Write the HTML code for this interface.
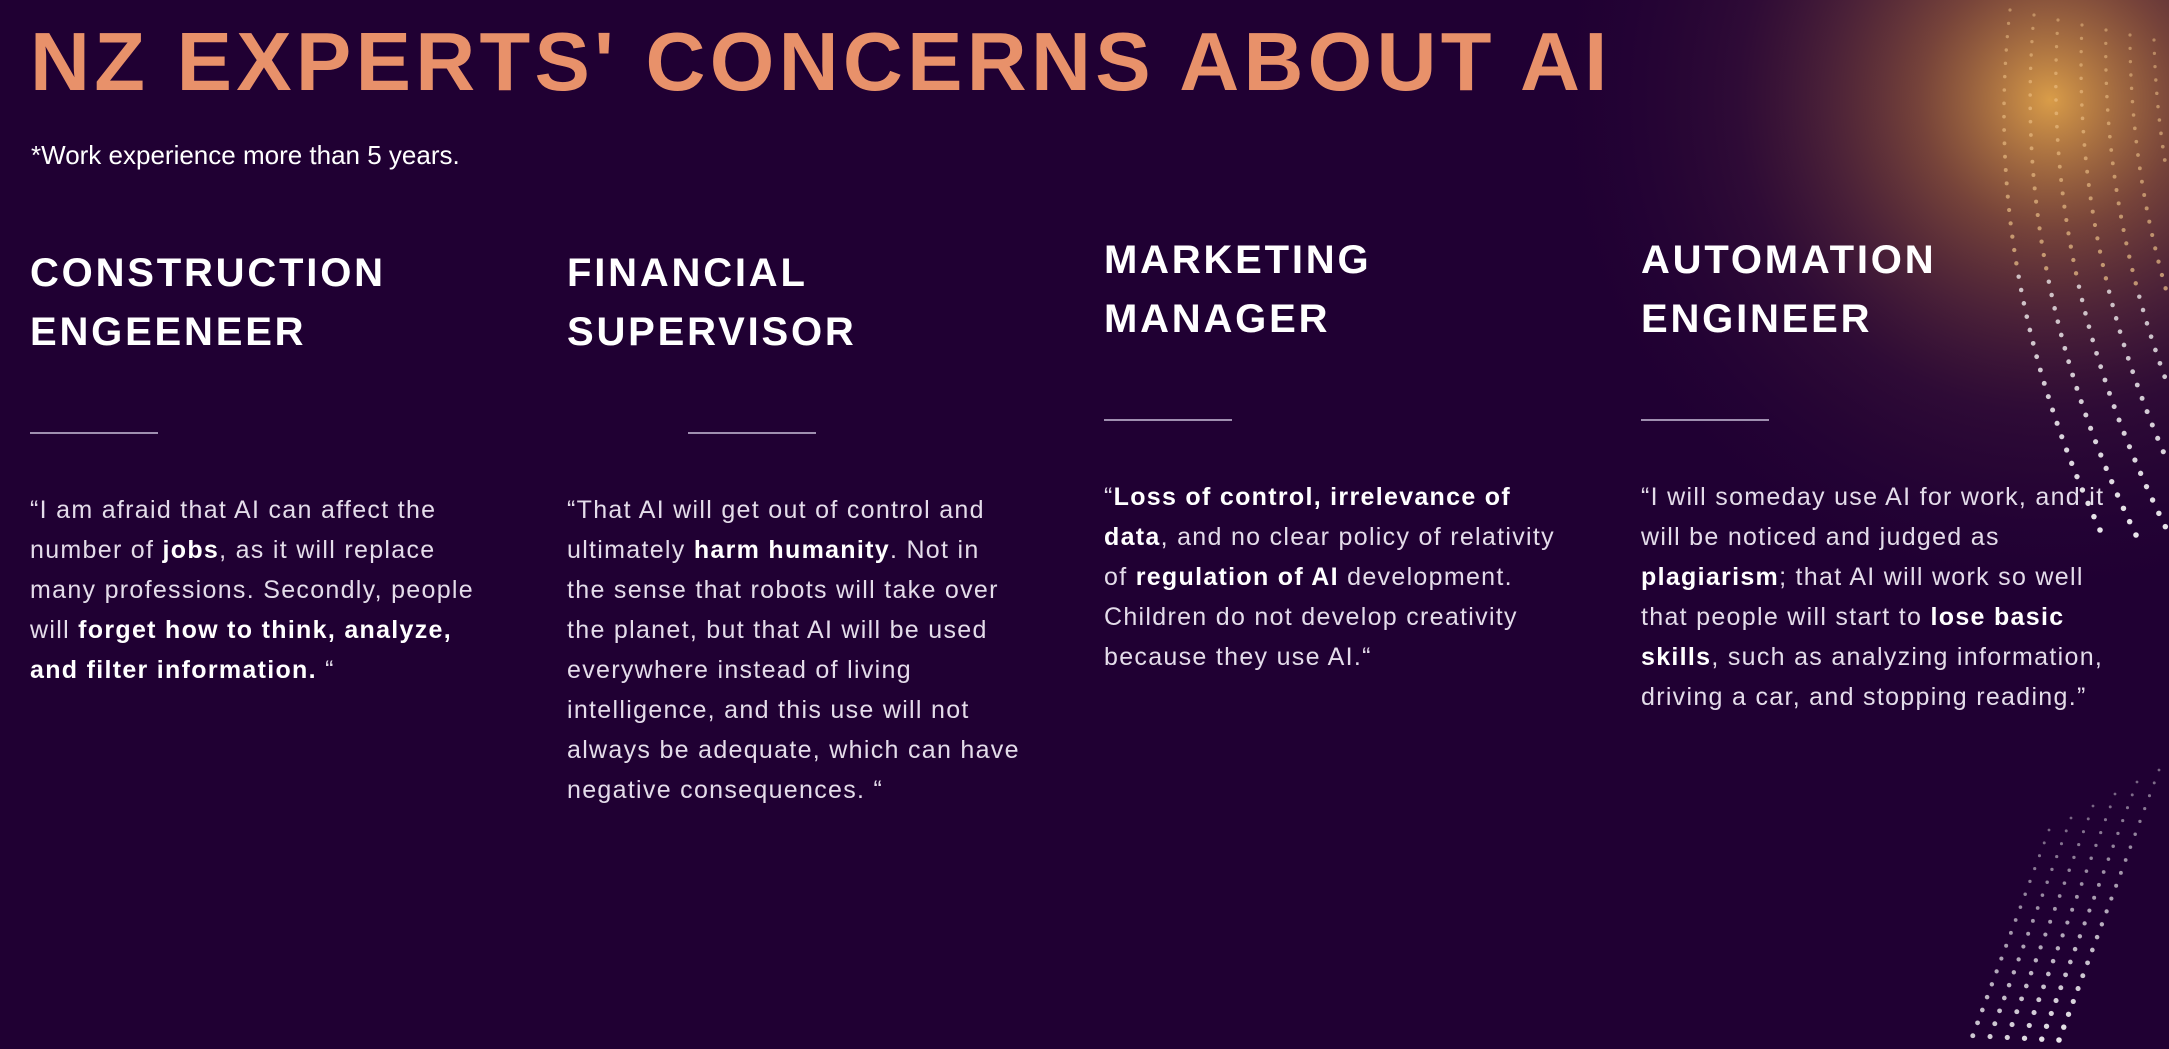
<!DOCTYPE html>
<html><head><meta charset="utf-8">
<style>
html,body{margin:0;padding:0;}
body{width:2169px;height:1049px;background:#200033;overflow:hidden;position:relative;font-family:"Liberation Sans",sans-serif;}
#title{position:absolute;left:30px;top:14px;font-size:83px;font-weight:bold;color:#e8916a;letter-spacing:4.3px;white-space:nowrap;}
#sub{position:absolute;left:31px;top:140px;font-size:26px;color:#fff;white-space:nowrap;}
.col{position:absolute;width:520px;}
.col h2{margin:0;font-size:40px;line-height:59px;font-weight:bold;color:#fff;letter-spacing:2.8px;white-space:nowrap;}
.rule{position:absolute;height:2px;width:128px;background:#9f8fb0;}
.q{position:absolute;font-size:25px;line-height:40px;color:#e4dcea;white-space:nowrap;letter-spacing:1.3px;}
.q b{color:#fff;}
#deco{position:absolute;left:0;top:0;}
</style></head><body>
<svg id="deco" width="2169" height="1049">
<defs>
<radialGradient id="glow" cx="2050" cy="100" r="520" gradientUnits="userSpaceOnUse">
<stop offset="0" stop-color="#e3a54a" stop-opacity="0.95"/>
<stop offset="0.25" stop-color="#b0703e" stop-opacity="0.6"/>
<stop offset="0.6" stop-color="#5a2c3e" stop-opacity="0.25"/>
<stop offset="1" stop-color="#200033" stop-opacity="0"/>
</radialGradient>
</defs>
<rect x="1500" y="0" width="669" height="620" fill="url(#glow)"/>
<g id="dots"></g>
</svg>
<div id="title">NZ EXPERTS' CONCERNS ABOUT AI</div>
<div id="sub">*Work experience more than 5 years.</div>

<div class="col" style="left:30px;top:244px"><h2>CONSTRUCTION<br>ENGEENEER</h2></div>
<div class="rule" style="left:30px;top:432px"></div>
<div class="q" style="left:30px;top:490px">“I am afraid that AI can affect the<br>number of <b>jobs</b>, as it will replace<br>many professions. Secondly, people<br>will <b>forget how to think, analyze,</b><br><b>and filter information.</b> “</div>

<div class="col" style="left:567px;top:244px"><h2>FINANCIAL<br>SUPERVISOR</h2></div>
<div class="rule" style="left:688px;top:432px"></div>
<div class="q" style="left:567px;top:490px">“That AI will get out of control and<br>ultimately <b>harm humanity</b>. Not in<br>the sense that robots will take over<br>the planet, but that AI will be used<br>everywhere instead of living<br>intelligence, and this use will not<br>always be adequate, which can have<br>negative consequences. “</div>

<div class="col" style="left:1104px;top:231px"><h2>MARKETING<br>MANAGER</h2></div>
<div class="rule" style="left:1104px;top:419px"></div>
<div class="q" style="left:1104px;top:477px">“<b>Loss of control, irrelevance of</b><br><b>data</b>, and no clear policy of relativity<br>of <b>regulation of AI</b> development.<br>Children do not develop creativity<br>because they use AI.“</div>

<div class="col" style="left:1641px;top:231px"><h2>AUTOMATION<br>ENGINEER</h2></div>
<div class="rule" style="left:1641px;top:419px"></div>
<div class="q" style="left:1641px;top:477px">“I will someday use AI for work, and it<br>will be noticed and judged as<br><b>plagiarism</b>; that AI will work so well<br>that people will start to <b>lose basic</b><br><b>skills</b>, such as analyzing information,<br>driving a car, and stopping reading.”</div>

<script>
var g=document.getElementById('dots');
var ns='http://www.w3.org/2000/svg';
for(var k=0;k<7;k++){
  for(var i=0;i<40;i++){
    var t=i/39;
    var x=2010+k*24 + 150*t*t - 60*t + k*12*t;
    var y=10+k*5 + t*520;
    if(x>2166) continue;
    var c=document.createElementNS(ns,'circle');
    c.setAttribute('cx',x);c.setAttribute('cy',y);c.setAttribute('r',1.6+t*1.2);
    c.setAttribute('fill', t<0.5?'#f0c48a':'#ffffff');
    c.setAttribute('opacity',0.5+0.4*t);
    
    
    g.appendChild(c);
  }
}
for(var k=0;k<6;k++){
  for(var i=0;i<22;i++){
    var t=i/21;
    var x=2169-k*22 - 10 + (-100*t);
    var y=770+k*12 + t*270;
    if(y>1043) continue;
    var c=document.createElementNS(ns,'circle');
    c.setAttribute('cx',x);c.setAttribute('cy',y);c.setAttribute('r',1.4+t*1.4);
    c.setAttribute('fill','#ffffff');
    c.setAttribute('opacity',0.4+0.5*t);
    
    
    g.appendChild(c);
  }
}
</script>
</body></html>
